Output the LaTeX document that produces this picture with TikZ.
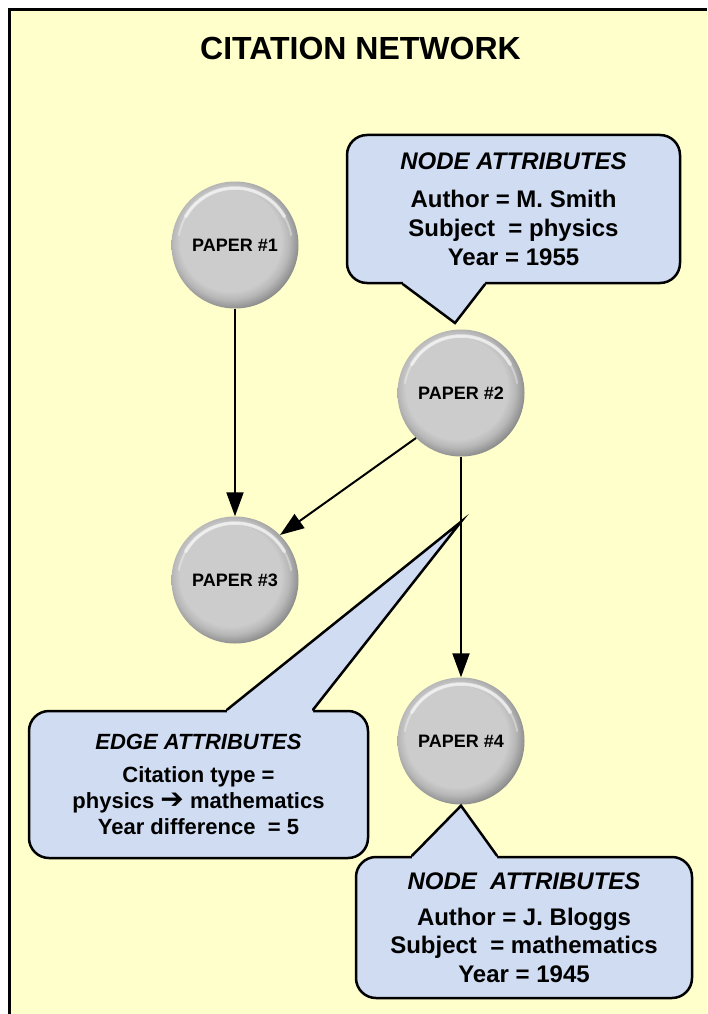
\documentclass[tikz,border=0pt]{standalone}
\usepackage{fontspec}
\setmainfont{Liberation Sans}
\newfontfamily\arrowfont{DejaVu Sans}
\usetikzlibrary{arrows.meta}
\definecolor{paperbg}{RGB}{255,255,204}
\definecolor{attrblue}{RGB}{208,220,242}
\pgfdeclareradialshading{paperball}{\pgfpoint{-3bp}{3bp}}{%
  rgb(0bp)=(0.80,0.80,0.80); rgb(20bp)=(0.80,0.80,0.80);
  rgb(23bp)=(0.72,0.72,0.72); rgb(26bp)=(0.58,0.58,0.58);
  rgb(29.5bp)=(0.38,0.38,0.38); rgb(50bp)=(0.38,0.38,0.38)}

\begin{document}
\begin{tikzpicture}[x=1pt, y=-1pt,
      paper/.style={circle, minimum size=127pt, inner sep=0pt,
                    shading=paperball, font=\fontsize{18}{21}\bfseries,
                    path picture={
                      \draw[white, opacity=.55, line width=3.5pt, line cap=round]
                        (path picture bounding box.center) ++(150:57pt)
                        arc[start angle=150, end angle=30, radius=57pt];
                      \draw[white, opacity=.35, line width=2pt, line cap=round]
                        (path picture bounding box.center) ++(170:57pt)
                        arc[start angle=170, end angle=10, radius=57pt];}},
      attr/.style={draw, line width=2.5pt, fill=attrblue, rounded corners=20pt,
                   align=center, inner sep=0pt},
      cite/.style={-{Triangle[length=24pt,width=17pt]}, line width=2pt},
      pointer/.style={line width=2.5pt, line cap=round, line join=miter}]
    \useasboundingbox (0,0) rectangle (707,1014);
    \fill[white] (0,0) rectangle (707,1014);
    \fill[paperbg] (9.5,9.5) rectangle (707,1014);
    \draw[line width=3pt] (9.5,1014) -- (9.5,9.5) -- (707,9.5);

    \node[anchor=base, font=\fontsize{32}{36}\bfseries] (title) at (360.5,60)
      {CITATION NETWORK};

    \node[paper] (P1) at (235,245) {PAPER \#1};
    \node[paper] (P2) at (461,393) {PAPER \#2};
    \node[paper] (P3) at (235,580) {PAPER \#3};
    \node[paper] (P4) at (461,741) {PAPER \#4};

    \draw[cite] (P1.south) -- (P3.north);
    \draw[cite] (P2.225) -- (P3.45);
    \draw[cite] (P2.south) -- (P4.north);

    \path (P2.south) -- (P4.north) coordinate[pos=0.295] (etip);
    \coordinate (ntip2) at (455,323);
    \coordinate (ntip4) at ([yshift=-1pt]P4.south);

    % node attributes of paper 2
    \node[attr, minimum width=333pt, minimum height=148pt,
          font=\fontsize{24}{29}\bfseries] (N2) at (513.5,209)
      {\textit{NODE ATTRIBUTES}\\[9pt] Author = M. Smith\\ Subject~ = physics\\ Year = 1955};
    \fill[attrblue] ([xshift=-110.5pt,yshift=8pt]N2.south) -- ([xshift=-110.5pt]N2.south)
      -- (ntip2) -- ([xshift=-28.5pt]N2.south) -- ([xshift=-28.5pt,yshift=8pt]N2.south) -- cycle;
    \draw[pointer] ([xshift=-110.5pt]N2.south) -- (ntip2) -- ([xshift=-28.5pt]N2.south);

    % edge attributes
    \node[attr, minimum width=339pt, minimum height=147pt,
          font=\fontsize{22}{26}\bfseries] (E24) at (198.5,784.5)
      {\textit{EDGE ATTRIBUTES}\\[7pt] Citation type =\\
       physics {\arrowfont\bfseries\fontsize{28}{26}\selectfont ➔} mathematics\\ Year difference~ = 5};
    \fill[attrblue] ([xshift=28.5pt,yshift=-8pt]E24.north) -- ([xshift=28.5pt]E24.north)
      -- (etip) -- ([xshift=114.5pt]E24.north) -- ([xshift=114.5pt,yshift=-8pt]E24.north) -- cycle;
    \draw[pointer] ([xshift=28.5pt]E24.north) -- (etip) -- ([xshift=114.5pt]E24.north);

    % node attributes of paper 4
    \node[attr, minimum width=336pt, minimum height=141pt,
          font=\fontsize{24}{28.5}\bfseries] (N4) at (524,927.5)
      {\textit{NODE~ ATTRIBUTES}\\[7pt] Author = J. Bloggs\\ Subject~ = mathematics\\ Year = 1945};
    \fill[attrblue] ([xshift=-112pt,yshift=-8pt]N4.north) -- ([xshift=-112pt]N4.north)
      -- (ntip4) -- ([xshift=-27pt]N4.north) -- ([xshift=-27pt,yshift=-8pt]N4.north) -- cycle;
    \draw[pointer] ([xshift=-112pt]N4.north) -- (ntip4) -- ([xshift=-27pt]N4.north);
  \end{tikzpicture}
\end{document}
